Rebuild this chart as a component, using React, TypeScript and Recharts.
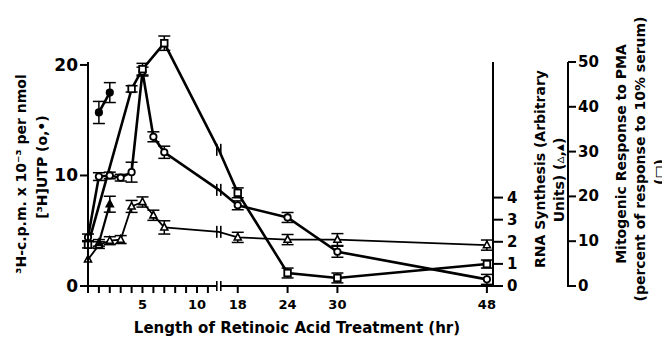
import React from "react";
import { LineChart, Line, XAxis, YAxis, ErrorBar } from "recharts";

const FONT = "DejaVu Sans";

// x axis is broken: 0-12 hr on one scale, 18-48 hr compressed after the break
const xPos = (h: number) => (h <= 12 ? h : 13.74 + (h - 18) * 0.762);
const X_MAX = 37.16;

const hourTicks = [0, 1, 2, 3, 4, 5, 6, 7, 8, 9, 10, 11, 12, 18, 24, 30, 48];
const labelledHours = [5, 10, 18, 24, 30, 48];
const BREAK_HOUR = 12;

const utpTicks = [0, 10, 20];
const rnaTicks = [0, 1, 2, 3, 4];
const mitoTicks = [0, 10, 20, 30, 40, 50];

// [3H]UTP, open circles (left axis)
const circleHours = [0, 1, 2, 3, 4, 5, 6, 7, 12, 18, 24, 30, 48];
const circleUtp = [4.4, 9.9, 10.0, 9.8, 10.3, 19.4, 13.5, 12.1, 8.7, 7.3, 6.2, 3.1, 0.6];
const circleErr = [0.3, 0.35, 0.3, 0.3, 0.9, 0.4, 0.45, 0.55, 0, 0.4, 0.45, 0.5, 0.45];

// [3H]UTP, filled circles
const dotHours = [1, 2];
const dotUtp = [15.7, 17.5];
const dotErr = [1.0, 0.9];

// mitogenic response to PMA, open squares (outer right axis)
const squareHours = [0, 4, 5, 7, 12, 18, 24, 30, 48];
const squareMito = [9.2, 44.0, 48.4, 54.2, 30.4, 20.8, 2.9, 1.8, 4.9];
const squareErr = [0.7, 0.7, 1.3, 1.6, 0, 1.1, 1.1, 1.1, 0.9];

// RNA synthesis, open triangles (inner right axis)
const triHours = [0, 1, 2, 3, 4, 5, 6, 7, 12, 18, 24, 30, 48];
const triRna = [1.2, 1.85, 2.05, 2.1, 3.6, 3.8, 3.2, 2.65, 2.45, 2.2, 2.1, 2.1, 1.85];
const triErr = [0, 0.15, 0.18, 0.18, 0.27, 0.23, 0.23, 0.3, 0, 0.23, 0.23, 0.27, 0.23];

// RNA synthesis, filled triangles
const ftriHours = [1, 2];
const ftriRna = [1.95, 3.7];
const ftriErr = [0.15, 0.36];

const build = (hours: number[], vals: number[], errs: number[]) =>
  hours.map((h, i) => ({ x: xPos(h), y: vals[i], e: errs[i], brk: h === BREAK_HOUR }));

const circleData = build(circleHours, circleUtp, circleErr);
const dotData = build(dotHours, dotUtp, dotErr);
const squareData = build(squareHours, squareMito, squareErr);
const triData = build(triHours, triRna, triErr);
const ftriData = build(ftriHours, ftriRna, ftriErr);

// the printed axes stop short of the plot top (the squares peak above them)
const AXIS_LEN = 224;

const makeDot = (shape: string) => (props: any) => {
  const { cx, cy, payload, index } = props;
  if (cx == null || cy == null) return <g key={index} />;
  if (payload.brk) {
    return (
      <g key={index} stroke="#000" strokeWidth={1.6}>
        <line x1={cx - 2} y1={cy - 6} x2={cx - 2} y2={cy + 6} />
        <line x1={cx + 2} y1={cy - 6} x2={cx + 2} y2={cy + 6} />
      </g>
    );
  }
  if (shape === "circle" || shape === "dot") {
    return (
      <circle
        key={index}
        cx={cx}
        cy={cy}
        r={3.2}
        fill={shape === "dot" ? "#000" : "#fff"}
        stroke="#000"
        strokeWidth={1.8}
      />
    );
  }
  if (shape === "square") {
    return (
      <rect key={index} x={cx - 3.3} y={cy - 3.3} width={6.6} height={6.6} fill="#fff" stroke="#000" strokeWidth={1.8} />
    );
  }
  const pts = `${cx},${cy - 4} ${cx + 3.5},${cy + 2.6} ${cx - 3.5},${cy + 2.6}`;
  return (
    <polygon key={index} points={pts} fill={shape === "ftri" ? "#000" : "#fff"} stroke="#000" strokeWidth={1.6} />
  );
};

const XTick = (props: any) => {
  const { x, y, payload } = props;
  const h = hourTicks.find((t) => Math.abs(xPos(t) - payload.value) < 1e-6);
  if (h === BREAK_HOUR) {
    return (
      <g stroke="#000" strokeWidth={1.6}>
        <rect x={x - 2} y={y - 3} width={4} height={6} fill="#fff" stroke="none" />
        <line x1={x - 2} y1={y - 5} x2={x - 2} y2={y + 5} />
        <line x1={x + 2} y1={y - 5} x2={x + 2} y2={y + 5} />
      </g>
    );
  }
  return (
    <g>
      <line x1={x} y1={y} x2={x} y2={y + 7} stroke="#000" strokeWidth={2} />
      {h !== undefined && labelledHours.includes(h) && (
        <text
          x={x}
          y={y + 18}
          textAnchor="middle"
          dominantBaseline="central"
          fontFamily={FONT}
          fontWeight={700}
          fontSize={13}
          fill="#000"
        >
          {h}
        </text>
      )}
    </g>
  );
};

const makeYTick = (dir: number, tickLen: number, gap: number, size: number) => (props: any) => {
  const { x, y, payload } = props;
  return (
    <g>
      {payload.value === 0 && (
        <line x1={x} y1={y + 1} x2={x} y2={y - AXIS_LEN} stroke="#000" strokeWidth={2} />
      )}
      <line x1={x} y1={y} x2={x + dir * tickLen} y2={y} stroke="#000" strokeWidth={2} />
      <text
        x={x + dir * (tickLen + gap)}
        y={y}
        textAnchor={dir < 0 ? "end" : "start"}
        dominantBaseline="central"
        fontFamily={FONT}
        fontWeight={700}
        fontSize={size}
        fill="#000"
      >
        {payload.value}
      </text>
    </g>
  );
};

const rot = (x: number, y: number, text: string, size = 14) => (
  <text
    x={x}
    y={y}
    transform={`rotate(-90 ${x} ${y})`}
    textAnchor="middle"
    dominantBaseline="central"
    fontFamily={FONT}
    fontWeight={700}
    fontSize={size}
    fill="#000"
  >
    {text}
  </text>
);

const LeftTitle = () => (
  <g>
    {rot(13, 166, "³H-c.p.m. x 10⁻³ per nmol")}
    {rot(34, 159, "[³H]UTP  (o,•)")}
  </g>
);

const RnaTitle = () => (
  <g>
    {rot(532, 161, "RNA Synthesis (Arbitrary")}
    {rot(551, 172, "Units) (▵,▴)")}
  </g>
);

const MitoTitle = () => (
  <g>
    {rot(613, 146, "Mitogenic Response to PMA")}
    {rot(632, 151, "(percent of response to 10% serum)")}
    {rot(652, 164, "(□)")}
  </g>
);

const XTitle = () => (
  <text
    x={289}
    y={320}
    textAnchor="middle"
    dominantBaseline="central"
    fontFamily={FONT}
    fontWeight={700}
    fontSize={15}
    fill="#000"
  >
    Length of Retinoic Acid Treatment (hr)
  </text>
);

export default function App() {
  return (
    <LineChart width={662} height={329} margin={{ top: 26, right: 8, bottom: 0, left: 0 }}>
      <XAxis
        type="number"
        dataKey="x"
        domain={[0, X_MAX]}
        ticks={hourTicks.map(xPos)}
        interval={0}
        height={51}
        tickSize={0}
        tickMargin={0}
        tickLine={false}
        axisLine={{ stroke: "#000", strokeWidth: 2 }}
        tick={(p: any) => <XTick {...p} />}
        label={<XTitle />}
      />
      <YAxis
        yAxisId="left"
        width={80}
        domain={[0, 22.8]}
        ticks={utpTicks}
        interval={0}
        tickSize={0}
        tickMargin={0}
        axisLine={false}
        tickLine={false}
        tick={makeYTick(-1, 8, 2, 17)}
        label={<LeftTitle />}
      />
      <YAxis
        yAxisId="r1"
        orientation="right"
        width={75}
        domain={[0, 11.4]}
        ticks={rnaTicks}
        interval={0}
        tickSize={0}
        tickMargin={0}
        axisLine={false}
        tickLine={false}
        tick={makeYTick(1, 10, 4, 15)}
        label={<RnaTitle />}
      />
      <YAxis
        yAxisId="r2"
        orientation="right"
        width={94}
        domain={[0, 56.25]}
        ticks={mitoTicks}
        interval={0}
        tickSize={0}
        tickMargin={0}
        axisLine={false}
        tickLine={false}
        tick={makeYTick(1, 8, 2, 15)}
        label={<MitoTitle />}
      />

      <Line
        data={triData}
        yAxisId="r1"
        dataKey="y"
        stroke="#000"
        strokeWidth={1.8}
        dot={makeDot("tri")}
        activeDot={false}
        isAnimationActive={false}
      >
        <ErrorBar dataKey="e" width={6} stroke="#000" strokeWidth={1.5} />
      </Line>
      <Line
        data={ftriData}
        yAxisId="r1"
        dataKey="y"
        stroke="#000"
        strokeWidth={2.2}
        dot={makeDot("ftri")}
        activeDot={false}
        isAnimationActive={false}
      >
        <ErrorBar dataKey="e" width={6} stroke="#000" strokeWidth={1.5} />
      </Line>
      <Line
        data={circleData}
        yAxisId="left"
        dataKey="y"
        stroke="#000"
        strokeWidth={2.6}
        dot={makeDot("circle")}
        activeDot={false}
        isAnimationActive={false}
      >
        <ErrorBar dataKey="e" width={6} stroke="#000" strokeWidth={1.5} />
      </Line>
      <Line
        data={squareData}
        yAxisId="r2"
        dataKey="y"
        stroke="#000"
        strokeWidth={2.6}
        dot={makeDot("square")}
        activeDot={false}
        isAnimationActive={false}
      >
        <ErrorBar dataKey="e" width={6} stroke="#000" strokeWidth={1.5} />
      </Line>
      <Line
        data={dotData}
        yAxisId="left"
        dataKey="y"
        stroke="#000"
        strokeWidth={2.6}
        dot={makeDot("dot")}
        activeDot={false}
        isAnimationActive={false}
      >
        <ErrorBar dataKey="e" width={6} stroke="#000" strokeWidth={1.5} />
      </Line>
    </LineChart>
  );
}
